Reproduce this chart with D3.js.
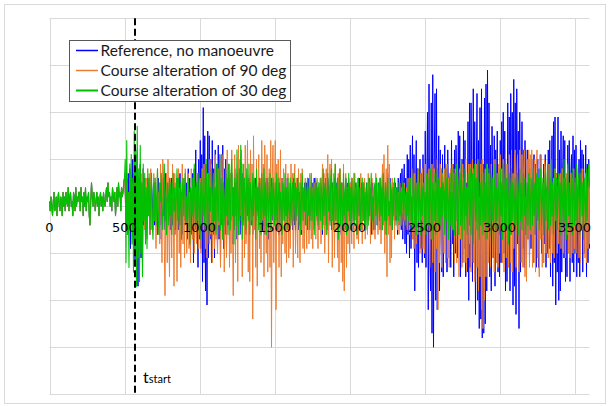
<!DOCTYPE html>
<html>
<head>
<meta charset="utf-8">
<script src="https://cdn.jsdelivr.net/npm/d3@7"></script>
<style>
body { margin: 0; background: #fff; }
</style>
</head>
<body>
<div id="chart"></div>
<script>
var width = 611;
var height = 406;

// time step of the sampled series (s), and the manoeuvre start
var tStep = 5;
var tStart = 570;

var xTicks = [0, 500, 1000, 1500, 2000, 2500, 3000, 3500];
var yGrid = [-40, -30, -20, -10, 0, 10, 20, 30, 40];

var seriesNames = ["Reference, no manoeuvre", "Course alteration of 90 deg", "Course alteration of 30 deg"];
var seriesColors = ["#0000ff", "#ed7d31", "#00c000"];

// t = 0 .. 500, identical for all three runs (one row = 100 s)
var shared = [
  1, -1, 2, 0, -2, 1, 3, -1, 0, 2, -2, 1, 3, 0, -1, 2, 1, -2, 3, 0,
  2, -1, 3, 1, 0, 4, -1, 2, 3, 0, 1, -2, 3, 2, -1, 4, 0, 2, 1, 3,
  3, -1, 4, 1, 2, -2, 3, 0, 4, -1, 2, 1, 3, -2, -4, 1, 5, 2, 0, 3,
  2, -1, 1, 3, 0, 2, -2, 1, 3, 0, 2, -1, 3, 1, 0, 2, 4, 1, 5, 2,
  3, 0, 2, -1, 4, 2, 1, 3, -2, 1, 4, 0, 5, 2, 3, -1, 4, 2, 3, 5,
  6
];

// t = 505 .. 3600 (one row = 100 s)
var blue = [
  3, -5, 6, -2, 7, -4, 8, -9, 5, -3, 10, -6, 7, -12, 4, -8, 11, -17, 6, -13,
  9, -11, 5, -13, 8, -4, 6, -7, 3, -5, 6, -2, 5, -6, 2, 4, -5, 3, 6, -4,
  5, -3, 2, -6, 6, 1, -4, 5, -7, 3, 6, -2, 4, -5, 7, 1, -4, 5, -3, 6,
  -5, 3, 6, -4, 2, -6, 5, 1, -3, 6, 4, -5, 2, 7, -4, 3, -6, 5, 1, -3,
  6, -4, 5, -7, 8, -2, 6, -9, 4, -6, 7, -12, 8, -5, 12, -8, 5, -13, 10, -7,
  14, -9, 11, -16, 21, -12, 15, -18, 9, -21, 16, -11, 15, -7, 10, -12, 14, -6, 8, -11,
  12, -5, 9, -10, 13, -7, 6, -12, 11, -4, 13, -9, 8, -6, 10, -10, 7, -4, 9, -8,
  6, -3, 7, -8, 4, -5, 8, -2, 5, -7, 3, -4, 6, -6, 2, 5, -4, 7, -3, 4,
  3, -6, 5, -2, 6, -5, 2, 7, -4, 3, -6, 5, 1, -5, 6, -3, 4, -2, 5, -4,
  5, -3, 6, -5, 2, 4, -6, 3, 6, -2, 5, -7, 4, 1, -5, 6, -3, 5, -4, 2,
  4, -5, 6, -2, 3, -6, 5, 2, -4, 6, -3, 5, 1, -5, 4, -2, 6, -4, 3, -5,
  5, -2, 4, -5, 6, 1, -4, 5, -3, 2, 6, -5, 3, -2, 5, -6, 4, 1, -3, 5,
  -4, 3, 5, -5, 2, 6, -3, 4, -2, 5, -5, 3, 6, -4, 1, 5, -3, 4, -5, 2,
  5, -3, 4, -6, 2, 5, -4, 6, -2, 3, -5, 4, 6, -3, 2, -5, 5, 1, -4, 6,
  -3, 5, 2, -5, 6, -4, 3, 1, -6, 5, 4, -3, 2, -5, 6, 3, -4, 5, -2, 4,
  5, -4, 3, 6, -5, 2, -3, 5, 4, -6, 3, -2, 6, -4, 1, 5, -5, 3, -3, 6,
  -4, 2, 5, -5, 3, 6, -2, 4, -6, 3, 5, -3, 2, -5, 6, 4, -4, 3, 5, -2,
  6, -5, 3, 7, -4, 2, -6, 5, 4, -3, 7, -5, 2, 6, -4, 3, -5, 5, 2, -4,
  5, -3, 4, -6, 6, -4, 3, 7, -5, 8, -7, 4, 9, -8, 6, -10, 11, -6, 10, -11,
  13, -9, 4, 15, -7, 11, -18, 3, 14, -12, 8, -13, 2, 10, -9, 6, -12, 11, -3, -11,
  16, -13, 5, 20, -22, 26, -8, -18, 22, -27, 28, -30, 9, 24, -20, 25, -22, 6, 15, -18,
  12, -4, -14, 11, -15, 3, 13, -7, 8, -14, 12, 1, -11, 6, -13, 14, -8, 9, -15, 12,
  -10, 13, 4, -11, 16, -6, 15, -15, 2, 10, -12, 16, -9, 14, -15, 5, -14, 18, -20, 22,
  -13, 22, 8, -16, 25, -12, 18, -23, 4, 24, -20, 14, -26, 21, -24, 25, -28, 9, -27, 23,
  -25, 26, -18, 29, -7, 22, -15, 13, -18, 17, 3, -11, 15, -17, 12, -9, 16, -14, 5, -15,
  14, -12, 18, -4, 20, -10, 16, -18, 6, -16, 22, -12, 19, -18, 24, -6, 20, -21, 27, -17,
  22, -23, 25, -8, 16, -26, 20, -14, 3, 18, -9, 12, -13, 14, -2, -11, 12, -7, 10, -12,
  8, -9, 10, 2, -12, 11, -6, 9, -13, 1, 10, -13, 8, -6, 11, -10, 4, -12, 9, -8,
  11, -13, 4, -10, 12, -9, 14, -15, 3, 15, -17, 18, -12, 19, -21, 7, -14, 19, -20, 12,
  -18, 16, -14, 5, 15, -11, 14, -16, 2, -15, 13, -9, 14, -16, 6, 11, -12, 15, -14, 12,
  -10, 13, -15, 4, -12, 10, -15, 14, 1, 12, -14, 11, -10, 3, 13, -15, 9, -12, 10, -9
];

var orange = [
  2, -4, 5, -1, 3, -2, 6, -5, 1, -4, 5, -3, 4, 0, 6, -5, 2, -4, 3, -6,
  4, -1, 7, -4, 8, 2, -5, 3, 6, -7, 1, -2, 7, -6, 8, 0, -3, -5, 7, 2,
  5, -9, 1, 8, -6, 3, -8, 9, -2, -12, 10, 4, -8, -19, 2, 7, -12, 10, -4, -15,
  6, -3, -11, 9, 1, -17, 7, -6, 5, -16, 2, 8, -10, 4, -13, 0, 9, -8, 6, -11,
  8, -2, -10, 5, 7, -9, 3, -12, 8, 1, -7, 6, -10, 4, -3, -8, 7, 2, -9, 5,
  6, -10, 2, 8, -5, 9, -1, -9, 4, -11, 7, 3, -8, 10, -6, 9, -12, 1, 5, -9,
  11, -7, 3, -10, 8, -4, 10, -13, 2, 11, -7, 8, -14, 1, 6, -11, 12, -3, 9, -13,
  7, -10, 12, -4, -19, 5, 11, -12, 2, 7, -16, 13, -6, 10, -2, 12, -15, 4, 9, -11,
  13, -8, 2, 14, -14, 6, -16, 12, -3, 9, -24, 15, -5, 4, -13, 10, -17, 3, 11, -9,
  6, -12, 14, -3, 9, -15, 13, 1, -10, 11, -14, 3, 8, -13, 14, -30, 6, 13, -12, 2,
  14, -22, 9, -4, 10, -13, 2, 12, -15, 6, -8, 8, 3, -10, 9, -12, 1, 7, -11, 4,
  -9, 9, -3, 7, -13, 2, 9, -10, 6, -4, -11, 8, 1, -12, 7, -5, 8, -9, 3, -10,
  6, -2, -9, 5, 0, -8, 7, 3, -7, 4, -9, 6, -3, 5, -7, 1, 6, -9, 4, -5,
  6, -8, 2, 9, -4, 7, -10, 3, 8, -6, 11, -12, 4, 9, -3, 10, -13, 2, 7, -11,
  9, -5, 3, -11, 7, -14, 2, 8, -12, 5, -16, 9, -18, 1, 7, -13, 4, -8, 6, -10,
  5, -3, -8, 6, 1, -9, 7, -2, 4, -7, 6, -8, 2, -5, 7, 0, -8, 5, -3, 6,
  -7, 4, 1, -6, 7, -3, 5, -8, 2, 6, -6, 0, 4, -7, 7, -2, 5, -6, 3, -5,
  6, -8, 2, 9, -4, 11, -10, 3, 8, -15, 13, -6, 9, -12, 4, -11, 6, -3, 5, -7,
  4, -2, 1, -5, 3, -6, 5, 0, -4, 4, -2, -6, 5, -3, 2, 4, -5, 6, -1, -6,
  6, -4, 8, -7, 2, -9, 7, 3, -8, 5, -6, 8, 1, -10, 7, -3, 8, -9, 4, -10,
  9, -4, 7, -12, 2, 8, -13, 6, -7, 9, -12, 3, 8, -14, 5, -9, 10, -22, 4, -12,
  9, -6, -13, 7, 2, -10, 8, -12, 4, 9, -11, 6, -13, 1, 8, -9, 9, -5, 7, -12,
  8, -4, -12, 9, 3, -15, 8, -7, 6, -13, 9, -10, 2, -12, 10, -14, 4, -11, 9, -8,
  9, -14, 3, 10, -12, 8, -16, 5, 9, -13, 10, -18, 2, -15, 9, -22, 10, -26, 4, -20,
  8, -15, 2, 9, -12, 7, -6, -13, 9, 3, -11, 8, -14, 10, -5, -12, 7, -13, 9, -10,
  11, -5, 8, -12, 10, -14, 4, 12, -11, 9, -6, -13, 11, 2, -12, 12, -14, 7, -9, 11,
  12, -13, 5, 11, -8, -14, 12, 3, -12, 11, -13, 6, 12, -15, 2, -16, 10, -7, 12, -13,
  11, -6, 12, -13, 4, -12, 10, -14, 8, 12, -11, 3, -15, 11, -7, 9, -13, 5, -12, 10,
  8, -10, 2, 7, -11, 9, -4, -12, 8, 1, -10, 6, -11, 8, -3, 7, -10, 4, -8, 6,
  7, -9, 3, 8, -10, 6, -2, -11, 7, -6, 8, -10, 2, -11, 7, -4, 6, -10, 8, -9,
  5, -10, 8, -3, 6, -11, 2, -12, 7, -5, 8, -10, 1, -11, 7, -12, 3, -9, 6, -8
];

var green = [
  10, -12, 14, -6, 3, -13, 9, -4, 11, -8, 6, -14, 16, -9, 12, -17, 17, -11, 8, -16,
  13, -10, 5, -15, 9, -3, 7, -8, 4, -9, 8, -2, 6, -5, 3, 7, -4, -7, 5, -3,
  6, -4, 2, 8, -3, -6, 5, 1, 7, -2, -5, 4, 9, -3, 2, -6, 5, 3, -4, 6,
  -2, 5, -6, 3, 7, -1, 4, -5, 2, 8, -3, 6, -4, 1, 5, -7, 3, 6, -2, 4,
  7, -3, 2, -5, 6, 1, -8, 4, 3, -2, 6, -5, 9, 2, -4, 5, -3, 7, 0, -6,
  5, -7, 8, 1, -2, 6, -4, 3, 10, -5, 2, 7, -6, 4, -1, 8, 3, -5, 7, -3,
  4, -6, 9, 2, -3, 7, 11, -5, 3, 6, -7, 5, 1, -4, 8, -2, 6, -6, 9, 3,
  -5, 7, 10, -2, 4, -8, 6, 3, -4, 12, 1, -6, 8, -3, 13, 5, -7, 9, -4, 6,
  2, -5, 8, 4, -3, 9, -6, 5, 1, -4, 7, -2, 6, 3, -7, 8, -1, 4, -5, 6,
  3, -6, 7, 1, -4, 8, -2, 5, -6, 3, 6, -3, 1, 7, -5, 4, -2, 6, 2, -4,
  5, -3, 7, -5, 2, 6, -4, 3, 1, -6, 5, 2, -3, 7, -2, 4, -5, 6, 0, -3,
  6, -4, 2, 5, -3, 7, 1, -5, 4, -2, 6, 3, -4, 5, -6, 2, 7, -3, 4, -1,
  5, -4, 3, 6, -2, 4, -5, 1, 7, -3, 2, 5, -6, 3, 6, -2, 4, -4, 5, 1,
  -3, 6, 2, -5, 8, -2, 4, 5, -6, 3, 7, -1, 2, -4, 6, 8, -3, 5, -5, 4,
  9, -3, 4, 6, -7, 2, 8, -4, 5, 1, -5, 7, -2, 3, 6, -6, 4, -1, 7, -3,
  4, -5, 6, 1, -3, 7, -4, 2, 5, -6, 3, 6, -2, 4, -5, 1, 6, -3, 5, -4,
  3, -5, 5, 1, -4, 6, -2, 3, 7, -3, 2, -5, 4, 5, -2, 6, -4, 1, 5, -3,
  6, -2, 4, -5, 7, 2, -3, 5, -6, 3, 6, -2, 1, -4, 5, 3, -5, 4, -2, 6,
  3, -4, 4, 1, -3, 5, -2, 3, -4, 2, 5, -3, 4, 1, -4, 3, -2, 5, -3, 4,
  6, -3, 2, -5, 7, 3, -4, 6, -6, 2, 8, -3, 5, 1, -6, 7, -2, 4, 5, -5,
  3, -6, 7, 2, -4, 6, -5, 8, 1, -7, 5, 3, -3, 7, -6, 2, 8, -4, 6, -5,
  4, -4, 8, -2, 5, 3, -6, 9, -3, 6, 2, -7, 5, 7, -4, 3, -5, 8, 1, -6,
  7, -3, 9, 2, -6, 5, 7, -4, 10, -7, 3, 6, -5, 8, -2, 4, -6, 7, 2, -4,
  8, -6, 3, 7, -8, 4, 9, -3, 6, -5, 10, 2, -7, 5, -4, 8, 3, -6, 7, -3,
  5, -7, 9, 1, -4, 8, -6, 3, 7, -3, 6, -8, 2, 9, -5, 4, -3, 7, 1, -6,
  8, -2, 5, -7, 9, 3, -5, 10, -4, 6, 2, -8, 7, 4, -6, 8, -3, 5, 1, -5,
  6, -4, 2, 7, -6, 4, 8, -3, 5, -5, 3, 7, -2, 6, -6, 1, 5, -4, 7, 2,
  -5, 6, 3, -4, 8, -2, 5, -6, 7, 2, -3, 6, -5, 4, 8, -4, 2, 6, -6, 3,
  7, -3, 4, 9, -5, 2, 6, -4, 10, -2, 5, -6, 3, 8, -3, 6, -5, 4, 7, -2,
  5, -6, 8, 1, -4, 10, -3, 6, -7, 4, 9, -2, 5, -5, 3, 7, -6, 8, 2, -4,
  6, -3, 9, -5, 4, 7, -6, 3, 8, -2, 5, -7, 6, 2, -4, 8, -3, 5, 9, 4
];

var svg = d3.select("#chart").append("svg")
    .attr("width", width)
    .attr("height", height)
    .style("font-family", "Lato, 'Open Sans', sans-serif");

// outer frame
svg.append("rect")
    .attr("x", 4.5).attr("y", 4.5)
    .attr("width", 601).attr("height", 399)
    .style("fill", "#fff")
    .style("stroke", "#d9d9d9")
    .style("stroke-width", 1);

var xScale = d3.scaleLinear()
    .domain([0, 3600])
    .range([49.5, 589.5]);

var yScale = d3.scaleLinear()
    .domain([-40, 40])
    .range([394.3, 18.3]);

// grid
svg.selectAll(".hgrid")
    .data(yGrid)
    .enter().append("line")
    .attr("class", "hgrid")
    .attr("x1", xScale(0)).attr("x2", xScale(3600))
    .attr("y1", function(d) { return Math.round(yScale(d)) + 0.5; })
    .attr("y2", function(d) { return Math.round(yScale(d)) + 0.5; })
    .style("stroke", "#d9d9d9");

svg.selectAll(".vgrid")
    .data(xTicks)
    .enter().append("line")
    .attr("class", "vgrid")
    .attr("x1", function(d) { return Math.round(xScale(d)) + 0.5; })
    .attr("x2", function(d) { return Math.round(xScale(d)) + 0.5; })
    .attr("y1", yScale(40)).attr("y2", yScale(-40))
    .style("stroke", "#d9d9d9");

var line = d3.line()
    .x(function(d, i) { return xScale(i * tStep); })
    .y(function(d) { return yScale(d); });

var allSeries = [shared.concat(blue), shared.concat(orange), shared.concat(green)];

svg.selectAll(".series")
    .data(allSeries)
    .enter().append("path")
    .attr("class", "series")
    .attr("d", function(d) { return line(d); })
    .style("fill", "none")
    .style("stroke", function(d, i) { return seriesColors[i]; })
    .style("stroke-width", function(d, i) { return i == 2 ? 1.1 : 1; })
    .style("stroke-linejoin", "round");

// tick labels sit on the zero line
svg.selectAll(".xlabel")
    .data(xTicks)
    .enter().append("text")
    .attr("class", "xlabel")
    .attr("x", function(d) { return xScale(d); })
    .attr("y", yScale(0) + 26)
    .attr("text-anchor", "middle")
    .style("font-family", "'DejaVu Sans', sans-serif")
    .style("font-size", "13px")
    .style("fill", "#000")
    .text(function(d) { return d; });

// manoeuvre start
svg.append("line")
    .attr("x1", xScale(tStart)).attr("x2", xScale(tStart))
    .attr("y1", yScale(40)).attr("y2", yScale(-40))
    .style("stroke", "#000")
    .style("stroke-width", 2)
    .style("stroke-dasharray", "7,3.5");

var tLabel = svg.append("text")
    .attr("x", xScale(tStart) + 8)
    .attr("y", 383)
    .style("font-size", "16px")
    .style("fill", "#000");
tLabel.append("tspan").text("t");
tLabel.append("tspan").style("font-size", "11px").text("start");

// legend
var legend = svg.append("g").attr("transform", "translate(69.5,40.5)");

legend.append("rect")
    .attr("width", 221).attr("height", 61)
    .style("fill", "#fff")
    .style("stroke", "#595959")
    .style("stroke-width", 1);

var items = legend.selectAll(".item")
    .data(seriesNames)
    .enter().append("g")
    .attr("class", "item")
    .attr("transform", function(d, i) { return "translate(0," + (10 + i * 20) + ")"; });

items.append("line")
    .attr("x1", 6.5).attr("x2", 28.5)
    .style("stroke", function(d, i) { return seriesColors[i]; })
    .style("stroke-width", function(d, i) { return i == 2 ? 2 : 1.5; });

items.append("text")
    .attr("x", 31)
    .attr("y", 5.5)
    .style("font-size", "15.5px")
    .style("fill", "#1a1a1a")
    .text(function(d) { return d; });
</script>
</body>
</html>
